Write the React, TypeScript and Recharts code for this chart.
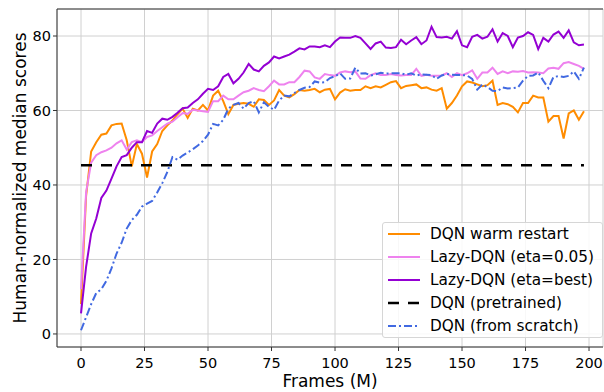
import React from 'react';
import { LineChart, Line, XAxis, YAxis, CartesianGrid, ReferenceLine } from 'recharts';

// x positions (millions of frames), one sample every 2M
const FRAMES = [
  0, 2, 4, 6, 8, 10, 12, 14, 16, 18,
  20, 22, 24, 26, 28, 30, 32, 34, 36, 38,
  40, 42, 44, 46, 48, 50, 52, 54, 56, 58,
  60, 62, 64, 66, 68, 70, 72, 74, 76, 78,
  80, 82, 84, 86, 88, 90, 92, 94, 96, 98,
  100, 102, 104, 106, 108, 110, 112, 114, 116, 118,
  120, 122, 124, 126, 128, 130, 132, 134, 136, 138,
  140, 142, 144, 146, 148, 150, 152, 154, 156, 158,
  160, 162, 164, 166, 168, 170, 172, 174, 176, 178,
  180, 182, 184, 186, 188, 190, 192, 194, 196, 198,
];

const WARM_RESTART = [
  8, 37, 49, 51.5, 53.5, 53.8, 56, 56.4, 56.5, 52,
  45, 51, 48.4, 42, 49, 51, 54.5, 56, 57.3, 59,
  60.5, 58, 60.5, 60, 61.5, 60, 64, 65.3, 62.5, 59,
  61.5, 61.8, 62, 61.8, 61, 63, 62.8, 61.5, 62.7, 65.5,
  64, 63.5, 64.4, 65.5, 65.3, 65.5, 65.8, 64.9, 65.6, 65.8,
  63, 64.8, 65.7, 65.3, 65.5, 65.5, 66.5, 66, 66.5, 66.2,
  66.9, 67.6, 67.9, 66, 66.6, 66.8, 67, 66, 66.2, 65.6,
  65.3, 66, 60.5, 62, 64, 66.5, 67.8, 67.5, 67, 66.5,
  66.8, 68, 61.5, 62, 61.7, 61, 59.5, 62, 62, 64,
  63.5, 63.5, 57, 58.5, 58.5, 52.5, 59.2, 60, 57.5, 59.8,
];

const LAZY_ETA_005 = [
  12, 38, 46, 48, 48.8, 49.3, 50, 51.2, 52, 49.5,
  51.5, 52, 51.5, 52.9, 53.3, 54.5, 55.5, 56.5, 57, 58.2,
  59.3, 59.1, 60.2, 60, 59.8, 59.6, 62.5, 62.5, 64, 63,
  63, 64, 64.9, 65.3, 66, 65.5, 65.2, 66.5, 68, 67,
  67, 67.6, 67.6, 69, 70.7, 70.5, 68.9, 68.5, 69.8, 69.5,
  69.3, 70.2, 70.5, 70.3, 70.5, 68.6, 68.5, 69.5, 70, 69.5,
  69.5, 69.8, 69.5, 69.4, 69.5, 69.5, 71.2, 69.3, 69.6, 69.3,
  69.3, 69.4, 70, 69, 70, 69.5, 70, 70.8, 68.5, 70.2,
  70.2, 71.5, 69.8, 70.5, 70, 70.5, 70.4, 70.6, 70.2, 70.3,
  70.2, 70, 71.3, 71.5, 71.2, 72.7, 73, 72.5, 72, 71.2,
];

const LAZY_ETA_BEST = [
  5.5, 18, 27, 31, 36.5, 38.5, 41.7, 45, 47.5, 48,
  50, 51.5, 51.5, 54.5, 54, 56.5, 57.8, 57.5, 58.3, 59.4,
  60.6, 60.8, 62, 63, 64.5, 65.8, 65.5, 66.5, 69, 69.8,
  67.3, 68.5, 70.2, 72.5, 71, 70.5, 72, 72.9, 74.5, 74,
  74.5, 75, 75.8, 76.7, 76.4, 77.2, 77.2, 77, 77.5, 77,
  78.5, 79.6, 79.5, 79.5, 80, 79.5, 78, 76.5, 78, 78.5,
  76.9, 76.8, 77, 79, 77.8, 78.8, 79.7, 77.8, 78.8, 82.5,
  79.7, 79.6, 79.8, 79.3, 81.3, 77.5, 77, 79.8, 80.3, 79.3,
  79.8, 81.8, 78.5, 80.8, 80, 77, 79.6, 80, 81, 80.3,
  76.5, 79.5, 78.5, 80.4, 81.2, 79.5, 81.5, 78.3, 77.5, 77.7,
];

const PRETRAINED = 45.3;

const FROM_SCRATCH = [
  1, 4.5, 8, 11, 12, 14.3, 17.6, 21.6, 24.5, 28.3,
  30.6, 32, 34.2, 35, 35.7, 38, 40.5, 43.5, 47.5, 46.8,
  47.9, 48.7, 49.6, 50.6, 51.8, 53.5, 56.4, 56, 57.5, 60.5,
  61.5, 62, 60.5, 62, 62.5, 59.5, 62.2, 61, 60.2, 62.7,
  64, 63.8, 64.7, 65.5, 66.1, 66.3, 67.8, 67.5, 67.6, 68.7,
  69.2, 70, 68.5, 68.6, 71.5, 69.9, 70, 69.4, 69.7, 70.1,
  69.9, 70, 70, 70, 69.6, 70, 69.4, 69.7, 69.6, 69.5,
  68.5, 69.4, 69.8, 69.6, 69.5, 69.5, 69.4, 68.5, 65.6, 67,
  66.3, 65.3, 65.2, 66.2, 65.9, 66, 66.2, 68, 69.3, 69.4,
  70.2, 68, 66, 69, 69.2, 69, 69.3, 70.5, 68.5, 71.5,
];

const X_TICKS = [0, 25, 50, 75, 100, 125, 150, 175, 200];
const Y_TICKS = [0, 20, 40, 60, 80];
const X_DOMAIN: [number, number] = [-9.45, 205.5];
const Y_DOMAIN: [number, number] = [-3.5, 87.25];

const FONT = '"DejaVu Sans", sans-serif';

const SERIES = [
  { key: 'warm', name: 'DQN warm restart', color: '#ff8c00', dash: undefined, width: 2 },
  { key: 'lazy005', name: 'Lazy-DQN (eta=0.05)', color: '#ee82ee', dash: undefined, width: 2 },
  { key: 'lazyBest', name: 'Lazy-DQN (eta=best)', color: '#9400d3', dash: undefined, width: 2 },
  { key: 'pretrained', name: 'DQN (pretrained)', color: '#000000', dash: '11 9', width: 2.5 },
  { key: 'scratch', name: 'DQN (from scratch)', color: '#4169e1', dash: '8 3 2 3', width: 2 },
];

const data = FRAMES.map((frame, i) => ({
  frame,
  warm: WARM_RESTART[i],
  lazy005: LAZY_ETA_005[i],
  lazyBest: LAZY_ETA_BEST[i],
  pretrained: PRETRAINED,
  scratch: FROM_SCRATCH[i],
}));

const YTitle = ({ viewBox }: any) => {
  const cx = 20;
  const cy = viewBox.y + viewBox.height / 2;
  return (
    <text
      x={cx}
      y={cy}
      transform={`rotate(-90, ${cx}, ${cy})`}
      textAnchor="middle"
      dominantBaseline="central"
      fontSize={17}
      fontFamily={FONT}
      fill="#000"
    >
      Human-normalized median scores
    </text>
  );
};

const XTitle = ({ viewBox }: any) => (
  <text
    x={viewBox.x + viewBox.width / 2}
    y={387}
    textAnchor="middle"
    fontSize={17}
    fontFamily={FONT}
    fill="#000"
  >
    Frames (M)
  </text>
);

const ChartLegend = () => (
  <div
    style={{
      position: 'absolute',
      left: 382,
      top: 222,
      width: 221,
      height: 116,
      border: '1px solid #d6d6d6',
      borderRadius: 3,
      background: 'rgba(255,255,255,0.85)',
      fontFamily: FONT,
      fontSize: 15.3,
      color: '#000',
      boxSizing: 'border-box',
    }}
  >
    {SERIES.map((s) => (
      <div key={s.key} style={{ display: 'flex', alignItems: 'center', height: 22.8 }}>
        <svg width={43} height={10} style={{ marginLeft: 4, flexShrink: 0 }}>
          <line
            x1={1}
            x2={33}
            y1={5}
            y2={5}
            stroke={s.color}
            strokeWidth={s.width}
            strokeDasharray={s.dash}
          />
        </svg>
        <span style={{ whiteSpace: 'nowrap', lineHeight: '18px' }}>{s.name}</span>
      </div>
    ))}
  </div>
);

export default function App() {
  return (
    <div style={{ position: 'absolute', left: 0, top: 0, width: 604, height: 392, background: '#fff' }}>
      <LineChart width={604} height={392} data={data} margin={{ top: 9, right: 1, bottom: 0, left: 0 }}>
        <CartesianGrid stroke="#d0d0d0" strokeWidth={1} />
        <XAxis
          dataKey="frame"
          type="number"
          domain={X_DOMAIN}
          ticks={X_TICKS}
          allowDataOverflow
          height={45}
          stroke="#333"
          tickSize={4}
          tickMargin={7}
          tick={{ fontSize: 14.5, fontFamily: FONT, fill: '#000' }}
          label={<XTitle />}
        />
        <YAxis
          type="number"
          domain={Y_DOMAIN}
          ticks={Y_TICKS}
          allowDataOverflow
          width={57}
          stroke="#333"
          tickSize={4}
          tickMargin={2}
          tick={{ fontSize: 14.5, fontFamily: FONT, fill: '#000' }}
          label={<YTitle />}
        />
        <ReferenceLine y={Y_DOMAIN[1]} stroke="#333" strokeWidth={1} />
        {SERIES.map((s) => (
          <Line
            key={s.key}
            dataKey={s.key}
            name={s.name}
            type="linear"
            stroke={s.color}
            strokeWidth={s.width}
            strokeDasharray={s.dash}
            dot={false}
            activeDot={false}
            isAnimationActive={false}
          />
        ))}
      </LineChart>
      <ChartLegend />
    </div>
  );
}
